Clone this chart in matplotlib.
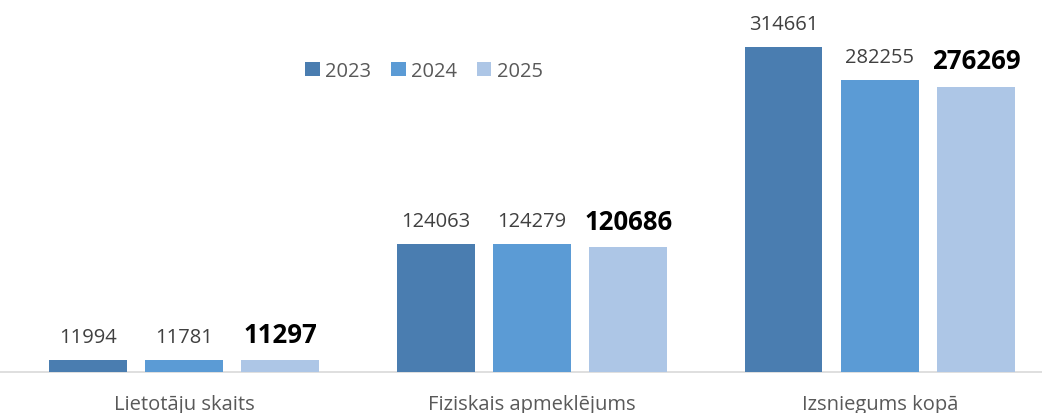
import matplotlib.pyplot as plt
import numpy as np

categories = ["Lietotāju skaits", "Fiziskais apmeklējums", "Izsniegums kopā"]
years = ["2023", "2024", "2025"]
values_2023 = [11994, 124063, 314661]
values_2024 = [11781, 124279, 282255]
values_2025 = [11297, 120686, 276269]

series = [values_2023, values_2024, values_2025]
colors = ["#4a7db0", "#5b9bd5", "#adc6e6"]

plt.rcParams['font.family'] = ['Open Sans', 'DejaVu Sans']

fig = plt.figure(figsize=(10.42, 4.14), dpi=100)
ax = fig.add_axes([0, 41 / 414, 1, 373 / 414])

x = np.arange(len(categories))
step = 0.277
width = 0.224

for i, vals in enumerate(series):
    bars = ax.bar(x + (i - 1) * step, vals, width, color=colors[i], label=years[i], zorder=3)
    for b, v in zip(bars, vals):
        last = i == len(series) - 1
        ax.annotate(str(v), (b.get_x() + b.get_width() / 2, v),
                    xytext=(0, 13), textcoords='offset points',
                    ha='center', va='baseline',
                    fontsize=18.5 if last else 14.5,
                    fontweight='bold' if last else 'normal',
                    color='black' if last else '#404040')

ax.set_xlim(-0.529, 2.466)
ax.set_ylim(0, 361000)
ax.set_xticks(x)
ax.set_xticklabels(categories, fontsize=14.5, color='#595959')
ax.tick_params(axis='x', length=0, pad=16)
ax.set_yticks([])
for s in ['top', 'right', 'left']:
    ax.spines[s].set_visible(False)
ax.spines['bottom'].set_color('#d9d9d9')
ax.spines['bottom'].set_linewidth(1.2)

leg = ax.legend(loc='center', bbox_to_anchor=(424 / 1042, 1 - 72 / 373), ncol=3,
                frameon=False, fontsize=14.5, handlelength=0.72, handleheight=0.72,
                handletextpad=0.25, columnspacing=1.0)
for t in leg.get_texts():
    t.set_color('#595959')

fig.savefig("out.png", dpi=100)
